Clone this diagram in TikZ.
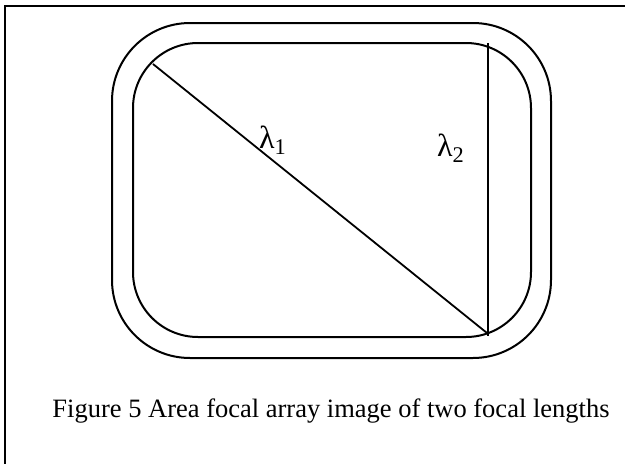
\documentclass[tikz,border=0pt]{standalone}
\usepackage{fontspec}
\setmainfont{Liberation Serif}
\begin{document}
\begin{tikzpicture}[x=1pt,y=-1pt,
  outline/.style={draw=black,line width=2pt},
  framestyle/.style={draw=black,line width=2.4pt},
  lamstyle/.style={font=\fontsize{32}{36}\selectfont,inner sep=0pt},
  captext/.style={font=\fontsize{26.5}{30}\selectfont,inner sep=0pt}]
\useasboundingbox (0,0) rectangle (625,464);
\draw[framestyle] (5,464) -- (5,6) -- (625,6);
\draw[outline,rounded corners=78pt] (112,23) rectangle (551,358);
\draw[outline,rounded corners=65pt] (133,43) rectangle (531,337);
\coordinate (d1) at (153,64);
\coordinate (d2) at (487,333);
\coordinate (v1) at (488,43);
\coordinate (v2) at (488,336);
\draw[line width=1.8pt] (d1) -- (d2);
\draw[line width=1.8pt] (v1) -- (v2);
\node[lamstyle,anchor=base west] (l1) at (259,148) {λ\textsubscript{1}};
\node[lamstyle,anchor=base west] (l2) at (437,156) {λ\textsubscript{2}};
\node[captext,anchor=base] (c) at (331,417) {Figure 5 Area focal array image of two focal lengths};
\end{tikzpicture}
\end{document}
